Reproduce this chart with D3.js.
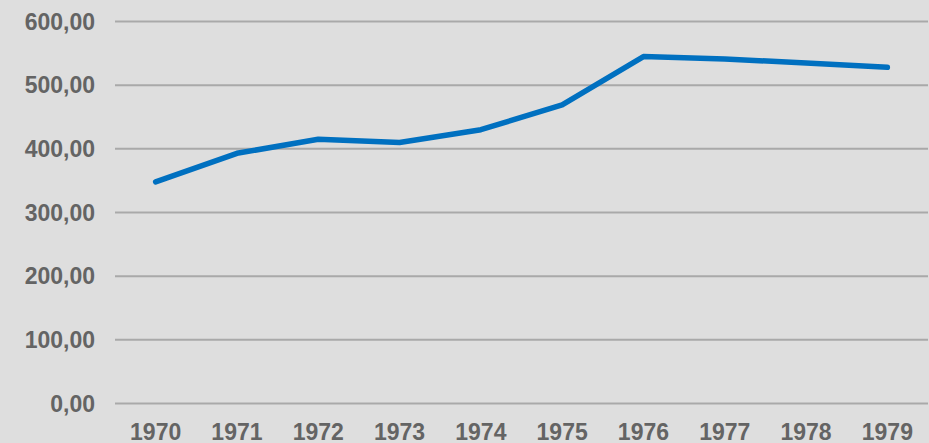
<!DOCTYPE html>
<html>
<head>
<meta charset="utf-8">
<script src="https://cdn.jsdelivr.net/npm/d3@7"></script>
<style>
  body { margin: 0; background: #dedede; }
  svg { display: block; }
  .tick text { font-family: "Liberation Sans", Arial, sans-serif; font-weight: bold; font-size: 23px; fill: #646464; }
</style>
</head>
<body>
<div id="vis"></div>
<script>
var width = 929;
var height = 443;

// data
var years = ['1970', '1971', '1972', '1973', '1974', '1975', '1976', '1977', '1978', '1979'];
var values = [348, 393, 415, 410, 430, 469, 545, 541, 535, 528];
var yTicks = [0, 100, 200, 300, 400, 500, 600];

var margin = { left: 115, right: 1, top: 21.5, bottom: 39.5 };

var svg = d3.select('#vis')
    .append('svg')
    .attr('width', width)
    .attr('height', height);

var x = d3.scaleBand()
    .domain(years)
    .range([margin.left, width - margin.right]);

var y = d3.scaleLinear()
    .domain([0, 600])
    .range([height - margin.bottom, margin.top]);

var fmt = function (d) { return d3.format('.2f')(d).replace('.', ','); };

// gridlines
svg.append('g').selectAll('line')
    .data(yTicks)
    .enter().append('line')
    .attr('x1', margin.left)
    .attr('x2', width - margin.right)
    .attr('y1', function (d) { return y(d); })
    .attr('y2', function (d) { return y(d); })
    .attr('stroke', '#a9a9a9')
    .attr('stroke-width', 2);

// y axis labels
var yAxis = svg.append('g')
    .attr('transform', 'translate(' + (margin.left - 20) + ',0)')
    .call(d3.axisLeft(y).tickValues(yTicks).tickFormat(fmt).tickSize(0).tickPadding(0));
yAxis.select('.domain').remove();
yAxis.selectAll('.tick text').attr('dy', '0.34em');

// x axis labels
var xAxis = svg.append('g')
    .attr('transform', 'translate(0,' + (height - margin.bottom) + ')')
    .call(d3.axisBottom(x).tickSize(0).tickPadding(20));
xAxis.select('.domain').remove();

// line
var line = d3.line()
    .x(function (d, i) { return x(years[i]) + x.bandwidth() / 2; })
    .y(function (d) { return y(d); });

svg.append('path')
    .datum(values)
    .attr('d', line)
    .attr('fill', 'none')
    .attr('stroke', '#0070c0')
    .attr('stroke-width', 5.5)
    .attr('stroke-linecap', 'round')
    .attr('stroke-linejoin', 'round');
</script>
</body>
</html>
